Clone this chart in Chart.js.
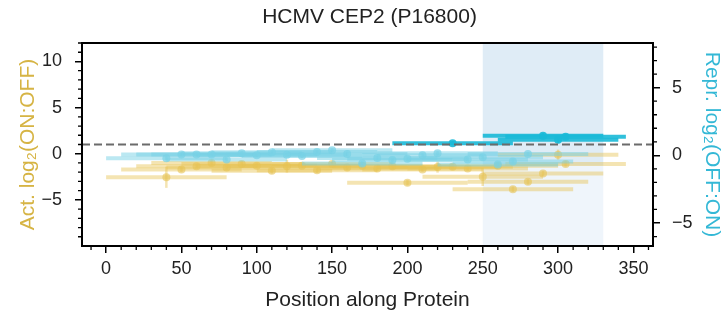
<!DOCTYPE html>
<html>
<head>
<meta charset="utf-8">
<script src="https://cdn.jsdelivr.net/npm/chart.js@4.4.1/dist/chart.umd.min.js"></script>
<style>
  html, body { margin: 0; padding: 0; background: #fff; }
  #wrap { width: 726px; height: 320px; }
</style>
</head>
<body>
<div id="wrap"><canvas id="cep2Chart" width="726" height="320"></canvas></div>
<script>
// tile centres along the protein (each tile is 80 aa wide)
const tileCenters = [40, 50, 60, 70, 80, 90, 100, 110, 120, 130, 140, 150, 160, 170, 180, 190, 200, 210, 220, 230, 240, 250, 260, 270, 280, 290, 300, 305];
// activation, log2(ON:OFF), left axis
const actValues = [-2.55, -1.7, -1.35, -1.0, -1.5, -1.1, -1.3, -1.85, -1.35, -1.3, -1.8, -1.1, -1.5, -1.3, -1.6, -1.35, -3.15, -1.7, -1.45, -1.4, -1.6, -2.5, -1.3, -3.85, -3.05, -2.15, -0.1, -1.1];
const actErr = [1.15, 0.3, 0.25, 0.3, 0.25, 0.3, 0.25, 0.3, 0.7, 0.25, 0.3, 0.25, 0.3, 0.25, 0.3, 0.3, 0.3, 0.25, 0.6, 0.3, 0.25, 1.0, 0.3, 0.3, 0.3, 0.3, 0.55, 0.3];
// repression, log2(OFF:ON), right axis
const reprValues = [-0.22, 0.07, 0.07, 0.07, -0.3, 0.15, 0.0, 0.22, 0.05, -0.05, 0.24, 0.37, 0.1, -0.6, -0.2, -0.35, -0.25, 0.0, 0.15, 0.9, -0.3, -0.15, -0.67, -0.45, 0.1, 1.44, 1.15, 1.37];
const reprErr = [0.15, 0.15, 0.15, 0.15, 0.15, 0.15, 0.15, 0.15, 0.15, 0.15, 0.15, 0.15, 0.15, 0.15, 0.15, 0.15, 0.15, 0.15, 0.15, 0.15, 0.15, 0.15, 0.15, 0.15, 0.15, 0.2, 0.25, 0.15];

const xTicks = [0, 50, 100, 150, 200, 250, 300, 350];
const actTicks = [-5, 0, 5, 10];
const reprTicks = [-5, 0, 5];

const tileHalf = 40;
const actThreshold = 1;      // dashed line (left axis)
const reprThreshold = 0.8;   // same height on the right axis
const domainStart = 250, domainEnd = 330;
const shadeSplit = -1.3;     // left axis value where the shading gets lighter

const actColor = 'rgba(230, 195, 85, 0.45)';
const actPoint = 'rgba(230, 195, 85, 0.6)';
const reprLight = 'rgba(120, 210, 230, 0.5)';
const reprLightPoint = 'rgba(120, 210, 230, 0.7)';
const reprDark = 'rgba(25, 185, 215, 0.9)';

const actData = tileCenters.map((c, i) => ({ x: c, y: actValues[i], err: actErr[i] }));
const reprAll = tileCenters.map((c, i) => ({ x: c, y: reprValues[i], err: reprErr[i] }));
const reprLow = reprAll.filter(p => p.y <= reprThreshold);
const reprHigh = reprAll.filter(p => p.y > reprThreshold);

const FONT = 'Liberation Sans, Arial, Helvetica, sans-serif';

// horizontal (tile span) and vertical error bars, drawn just before each dataset's points
const errorBars = {
    id: 'errorBars',
    beforeDatasetDraw(chart, args) {
        const ds = chart.data.datasets[args.index];
        const xs = chart.scales.x;
        const ys = chart.scales[ds.yAxisID];
        const ctx = chart.ctx;
        const area = chart.chartArea;
        ctx.save();
        ctx.beginPath();
        ctx.rect(area.left, area.top, area.right - area.left, area.bottom - area.top);
        ctx.clip();
        ctx.strokeStyle = ds.barColor;
        ctx.lineCap = 'butt';
        ds.data.forEach(p => {
            const py = ys.getPixelForValue(p.y);
            ctx.lineWidth = 4;
            ctx.beginPath();
            ctx.moveTo(xs.getPixelForValue(p.x - tileHalf), py);
            ctx.lineTo(xs.getPixelForValue(p.x + tileHalf), py);
            ctx.stroke();
            const px = xs.getPixelForValue(p.x);
            ctx.lineWidth = 2.5;
            ctx.beginPath();
            ctx.moveTo(px, ys.getPixelForValue(p.y - p.err));
            ctx.lineTo(px, ys.getPixelForValue(p.y + p.err));
            ctx.stroke();
        });
        ctx.restore();
    }
};

// shaded domain, threshold line, frame and minor ticks
const decorations = {
    id: 'decorations',
    beforeDatasetsDraw(chart) {
        const { ctx, chartArea: a, scales } = chart;
        const x0 = scales.x.getPixelForValue(domainStart);
        const x1 = scales.x.getPixelForValue(domainEnd);
        const ySplit = scales.yAct.getPixelForValue(shadeSplit);
        ctx.save();
        ctx.fillStyle = '#eff5fb';
        ctx.fillRect(x0, ySplit, x1 - x0, a.bottom - ySplit);
        ctx.fillStyle = '#dfecf6';
        ctx.fillRect(x0, a.top, x1 - x0, ySplit - a.top);
        ctx.restore();
    },
    afterDatasetsDraw(chart) {
        const { ctx, chartArea: a, scales } = chart;
        ctx.save();
        const yt = scales.yAct.getPixelForValue(actThreshold);
        ctx.strokeStyle = '#6b6b6b';
        ctx.lineWidth = 2;
        ctx.setLineDash([8, 4]);
        ctx.beginPath();
        ctx.moveTo(a.left, yt);
        ctx.lineTo(a.right, yt);
        ctx.stroke();
        ctx.setLineDash([]);
        ctx.strokeStyle = '#000';
        ctx.lineWidth = 2;
        ctx.strokeRect(a.left, a.top, a.right - a.left, a.bottom - a.top);

        ctx.lineWidth = 1.3;
        ctx.beginPath();
        const xs = scales.x;
        for (let v = Math.ceil(xs.min / 10) * 10; v <= xs.max; v += 10) {
            if (v % 50 === 0) continue;
            const px = xs.getPixelForValue(v);
            ctx.moveTo(px, a.bottom);
            ctx.lineTo(px, a.bottom + 4);
        }
        const yl = scales.yAct;
        for (let v = Math.ceil(yl.min); v <= yl.max; v++) {
            if (v % 5 === 0) continue;
            const py = yl.getPixelForValue(v);
            ctx.moveTo(a.left, py);
            ctx.lineTo(a.left - 4, py);
        }
        const yr = scales.yRepr;
        for (let v = Math.ceil(yr.min); v <= yr.max; v++) {
            if (v % 5 === 0) continue;
            const py = yr.getPixelForValue(v);
            ctx.moveTo(a.right, py);
            ctx.lineTo(a.right + 4, py);
        }
        ctx.stroke();
        ctx.restore();
    }
};

const tickFont = { family: FONT, size: 18 };
const labelFont = { family: FONT, size: 21 };

const config = {
    type: 'scatter',
    data: {
        datasets: [
            {
                label: 'Repr. (hit)',
                data: reprHigh,
                yAxisID: 'yRepr',
                barColor: reprDark,
                backgroundColor: reprDark,
                pointRadius: 4,
                pointBorderWidth: 0,
                order: 1
            },
            {
                label: 'Repr.',
                data: reprLow,
                yAxisID: 'yRepr',
                barColor: reprLight,
                backgroundColor: reprLightPoint,
                pointRadius: 4,
                pointBorderWidth: 0,
                order: 2
            },
            {
                label: 'Act.',
                data: actData,
                yAxisID: 'yAct',
                barColor: actColor,
                backgroundColor: actPoint,
                pointRadius: 4,
                pointBorderWidth: 0,
                order: 3
            }
        ]
    },
    options: {
        responsive: false,
        animation: false,
        layout: { padding: { left: 13, right: 0, top: 0, bottom: 0 } },
        plugins: {
            legend: { display: false },
            tooltip: { enabled: false },
            title: {
                display: true,
                text: 'HCMV CEP2 (P16800)',
                color: '#222',
                font: { family: FONT, size: 21, weight: 'normal' },
                padding: { top: 5, bottom: 12.8 }
            }
        },
        scales: {
            x: {
                type: 'linear',
                min: -16,
                max: 363,
                afterBuildTicks: s => { s.ticks = xTicks.map(v => ({ value: v })); },
                afterFit: s => { s.height = 74; },
                grid: { drawOnChartArea: false, tickLength: 7, tickColor: '#000', lineWidth: 1.5 },
                border: { display: false },
                ticks: { color: '#222', font: tickFont, padding: 5, maxRotation: 0 },
                title: {
                    display: true,
                    text: 'Position along Protein',
                    color: '#222',
                    font: labelFont,
                    padding: { top: 0, bottom: 7 }
                }
            },
            yAct: {
                type: 'linear',
                position: 'left',
                min: -10,
                max: 12,
                afterBuildTicks: s => { s.ticks = actTicks.map(v => ({ value: v })); },
                afterFit: s => { s.width = 69; },
                grid: { drawOnChartArea: false, tickLength: 7, tickColor: '#000', lineWidth: 1.5 },
                border: { display: false },
                ticks: { color: '#222', font: tickFont, padding: 13, callback: v => v < 0 ? '\u2212' + Math.abs(v) : v },
                title: {
                    display: true,
                    text: 'Act. log\u2082(ON:OFF)',
                    color: '#d6b444',
                    font: labelFont,
                    padding: { top: 3, bottom: 0 }
                }
            },
            yRepr: {
                type: 'linear',
                position: 'right',
                min: -6.7,
                max: 8.3,
                afterBuildTicks: s => { s.ticks = reprTicks.map(v => ({ value: v })); },
                afterFit: s => { s.width = 73; },
                grid: { drawOnChartArea: false, tickLength: 7, tickColor: '#000', lineWidth: 1.5 },
                border: { display: false },
                ticks: { color: '#222', font: tickFont, padding: 12, callback: v => v < 0 ? '\u2212' + Math.abs(v) : v },
                title: {
                    display: true,
                    text: 'Repr. log\u2082(OFF:ON)',
                    color: '#34b8d6',
                    font: labelFont,
                    padding: { top: 2, bottom: 0 }
                }
            }
        }
    },
    plugins: [errorBars, decorations]
};

const ctx = document.getElementById('cep2Chart').getContext('2d');
const cep2Chart = new Chart(ctx, config);
</script>
</body>
</html>
